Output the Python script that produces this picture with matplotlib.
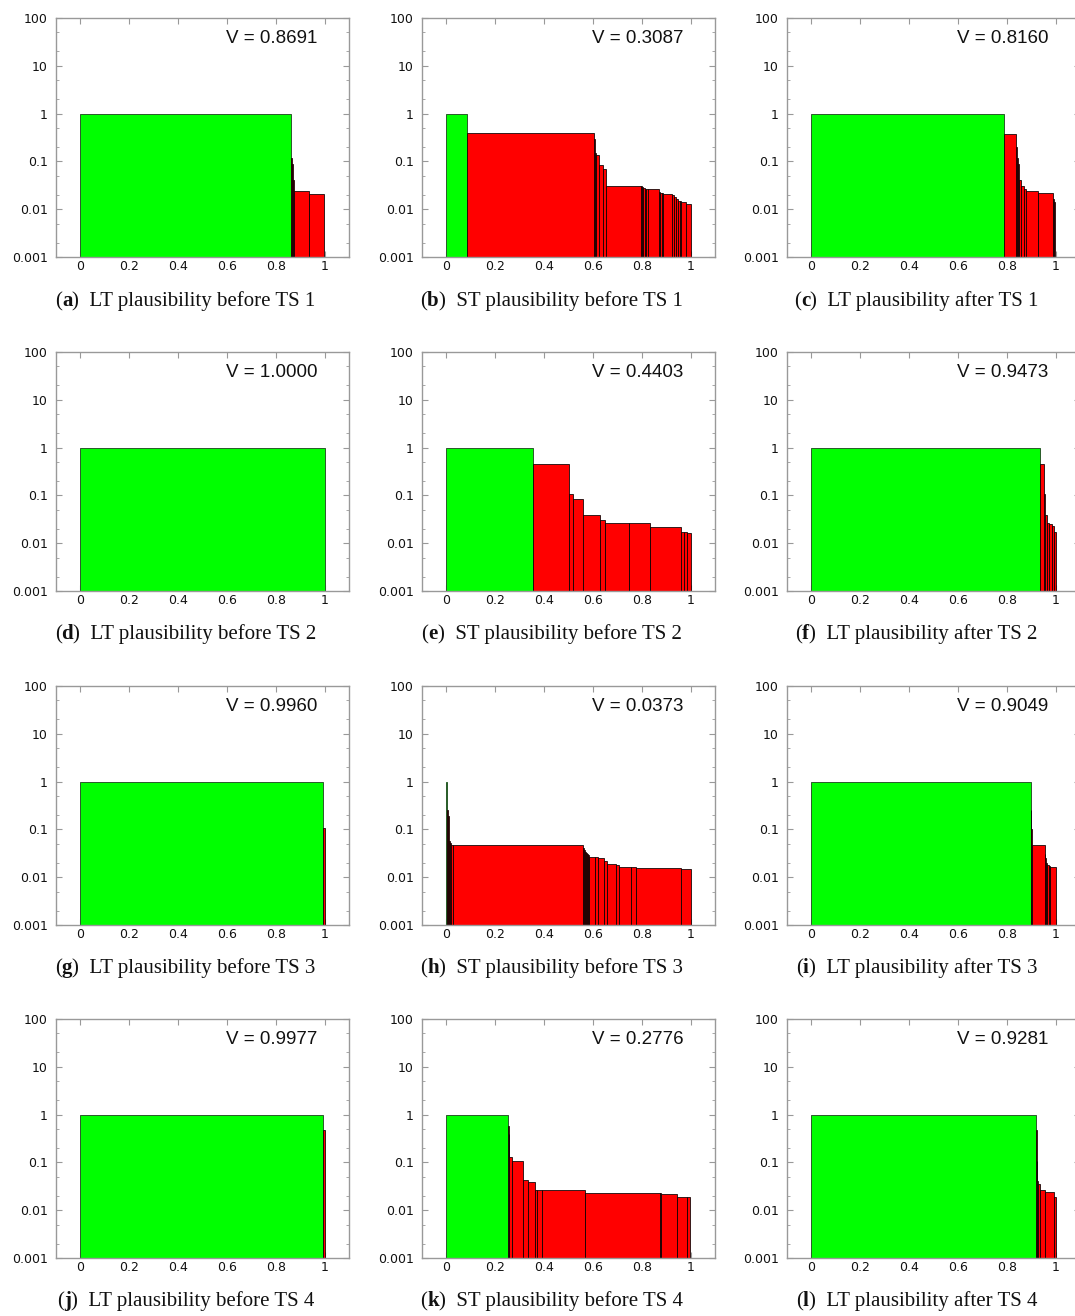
import numpy as np
import matplotlib
matplotlib.use("Agg")
import matplotlib.pyplot as plt
import matplotlib.transforms as mtransforms
from matplotlib.offsetbox import TextArea, HPacker, AnchoredOffsetbox
from matplotlib.ticker import FixedLocator, FuncFormatter, NullFormatter

# ---------------- data ----------------
letters = ["a", "b", "c", "d", "e", "f", "g", "h", "i", "j", "k", "l"]
captions = ["LT plausibility before TS 1", "ST plausibility before TS 1", "LT plausibility after TS 1",
            "LT plausibility before TS 2", "ST plausibility before TS 2", "LT plausibility after TS 2",
            "LT plausibility before TS 3", "ST plausibility before TS 3", "LT plausibility after TS 3",
            "LT plausibility before TS 4", "ST plausibility before TS 4", "LT plausibility after TS 4"]
v_values = ["0.8691", "0.3087", "0.8160", "1.0000", "0.4403", "0.9473",
            "0.9960", "0.0373", "0.9049", "0.9977", "0.2776", "0.9281"]
green_width = [0.864, 0.085, 0.789, 1.0, 0.354, 0.937, 0.994, 0.002, 0.899, 0.994, 0.251, 0.921]

red_edges_a = [0.864, 0.866, 0.870, 0.876, 0.936, 0.998]
red_heights_a = [0.12, 0.09, 0.04, 0.024, 0.021]
red_edges_b = [0.085, 0.604, 0.608, 0.614, 0.626, 0.641, 0.652, 0.795, 0.800, 0.806, 0.812, 0.818, 0.824,
               0.870, 0.876, 0.882, 0.888, 0.925, 0.932, 0.940, 0.947, 0.955, 0.962, 0.980, 1.0]
red_heights_b = [0.40, 0.30, 0.15, 0.135, 0.083, 0.070, 0.031, 0.030, 0.029, 0.028, 0.027, 0.027, 0.026,
                 0.023, 0.022, 0.022, 0.021, 0.020, 0.018, 0.016, 0.015, 0.015, 0.014, 0.013]
red_edges_c = [0.789, 0.839, 0.843, 0.847, 0.851, 0.857, 0.869, 0.877, 0.930, 0.989, 0.993, 0.998]
red_heights_c = [0.38, 0.20, 0.12, 0.09, 0.04, 0.031, 0.027, 0.024, 0.022, 0.016, 0.014]
red_edges_d = []
red_heights_d = []
red_edges_e = [0.354, 0.503, 0.518, 0.559, 0.630, 0.649, 0.747, 0.833, 0.962, 0.975, 0.986, 1.0]
red_heights_e = [0.46, 0.107, 0.086, 0.038, 0.030, 0.027, 0.026, 0.022, 0.0175, 0.017, 0.0165]
red_edges_f = [0.937, 0.952, 0.957, 0.966, 0.975, 0.985, 0.993, 1.0]
red_heights_f = [0.46, 0.105, 0.039, 0.027, 0.025, 0.023, 0.017]
red_edges_g = [0.994, 1.0]
red_heights_g = [0.105]
red_edges_h = [0.002, 0.006, 0.011, 0.016, 0.020, 0.026, 0.559, 0.563, 0.567, 0.571, 0.575, 0.580, 0.586,
               0.608, 0.622, 0.645, 0.658, 0.693, 0.706, 0.754, 0.775, 0.962, 1.0]
red_heights_h = [0.25, 0.19, 0.058, 0.051, 0.048, 0.047, 0.040, 0.037, 0.034, 0.032, 0.030, 0.029, 0.027,
                 0.026, 0.025, 0.0215, 0.0193, 0.018, 0.0167, 0.016, 0.0155, 0.0152]
red_edges_i = [0.899, 0.901, 0.903, 0.955, 0.958, 0.961, 0.964, 0.975, 0.978, 1.0]
red_heights_i = [0.25, 0.10, 0.047, 0.030, 0.025, 0.020, 0.018, 0.017, 0.016]
red_edges_j = [0.994, 1.0]
red_heights_j = [0.47]
red_edges_k = [0.251, 0.255, 0.258, 0.269, 0.314, 0.335, 0.363, 0.372, 0.392, 0.567, 0.873, 0.880,
               0.945, 0.986, 0.998]
red_heights_k = [0.57, 0.40, 0.128, 0.106, 0.042, 0.038, 0.027, 0.0265, 0.026, 0.0233, 0.0225, 0.022,
                 0.019, 0.0185]
red_edges_l = [0.921, 0.923, 0.925, 0.929, 0.937, 0.958, 0.993, 1.0]
red_heights_l = [0.47, 0.106, 0.040, 0.035, 0.026, 0.0237, 0.019]

red_edges = [red_edges_a, red_edges_b, red_edges_c, red_edges_d, red_edges_e, red_edges_f,
             red_edges_g, red_edges_h, red_edges_i, red_edges_j, red_edges_k, red_edges_l]
red_heights = [red_heights_a, red_heights_b, red_heights_c, red_heights_d, red_heights_e, red_heights_f,
               red_heights_g, red_heights_h, red_heights_i, red_heights_j, red_heights_k, red_heights_l]

x_ticks = [0, 0.2, 0.4, 0.6, 0.8, 1]
y_ticks = [0.001, 0.01, 0.1, 1, 10, 100]

# ---------------- layout ----------------
W, H = 1075, 1316
fig = plt.figure(figsize=(W / 100, H / 100), dpi=100)

col_left = [56, 422, 787]
ax_w = 293
row_top = [18, 352, 686, 1019]
ax_h = 239
cap_y = [301, 634, 968, 1301]

BASE = 1e-5
spine_col = "#999999"

for idx in range(12):
    r, c = divmod(idx, 3)
    l = col_left[c]
    t = row_top[r]
    ax = fig.add_axes([l / W, 1 - (t + ax_h) / H, ax_w / W, ax_h / H])
    ax.set_yscale("log")
    ax.set_xlim(-0.1, 1.1)
    ax.set_ylim(1e-3, 100)

    # green bar
    gw = green_width[idx]
    ax.bar([0], [1 - BASE], width=[gw], bottom=BASE, align="edge",
           color="#00ff00", edgecolor="#2a5a2a", linewidth=0.7, zorder=2)
    # red bars
    e = np.array(red_edges[idx], dtype=float)
    h = np.array(red_heights[idx], dtype=float)
    if len(h):
        ax.bar(e[:-1], h - BASE, width=np.diff(e), bottom=BASE, align="edge",
               color="#ff0000", edgecolor="#000000", linewidth=0.55, zorder=2)

    for s in ax.spines.values():
        s.set_color(spine_col)
        s.set_linewidth(1.0)
        s.set_zorder(3)

    ax.xaxis.set_major_locator(FixedLocator(x_ticks))
    ax.xaxis.set_major_formatter(FuncFormatter(lambda v, p: "%g" % v))
    ax.yaxis.set_major_locator(FixedLocator(y_ticks))
    ax.yaxis.set_major_formatter(FuncFormatter(lambda v, p: "%g" % v))
    minors = [m * 10.0 ** k for k in range(-3, 2) for m in (2, 5)]
    ax.yaxis.set_minor_locator(FixedLocator(minors))
    ax.yaxis.set_minor_formatter(NullFormatter())
    ax.xaxis.set_minor_locator(FixedLocator([]))
    ax.tick_params(axis="both", which="both", direction="in", top=True, right=True,
                   color=spine_col, labelsize=9, labelcolor="#111111")
    ax.tick_params(axis="both", which="major", length=4, width=0.8)
    ax.tick_params(axis="y", which="minor", length=2.5, width=0.6)
    ax.tick_params(axis="y", which="major", pad=6)
    ax.tick_params(axis="x", which="major", pad=2)
    for lab in ax.get_xticklabels() + ax.get_yticklabels():
        lab.set_family("DejaVu Sans")

    ax.text(0.972, 0.915, "V = " + v_values[idx],
            transform=mtransforms.blended_transform_factory(ax.transData, ax.transAxes),
            ha="right", va="center", fontsize=13.5, family="Liberation Sans", color="#111111")

    # caption
    fp = dict(family="Liberation Serif", size=15, color="#111111")
    ta1 = TextArea("(", textprops=fp)
    ta2 = TextArea(letters[idx], textprops=dict(fp, weight="bold"))
    ta3 = TextArea(")  " + captions[idx], textprops=fp)
    box = HPacker(children=[ta1, ta2, ta3], align="baseline", pad=0, sep=0)
    cx = (l + ax_w / 2 - 17) / W
    cy = 1 - cap_y[idx // 3] / H
    anch = AnchoredOffsetbox(loc="center", child=box, pad=0, frameon=False,
                             bbox_to_anchor=(cx, cy), bbox_transform=fig.transFigure,
                             borderpad=0)
    fig.add_artist(anch)

fig.savefig("out.png", dpi=100, facecolor="white")
